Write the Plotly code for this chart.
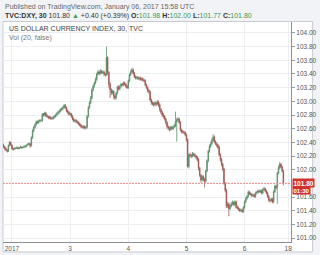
import plotly.graph_objects as go

# 30-minute bars, TVC:DXY, Jan 1 (evening) .. Jan 6 2017
bar_open = [
    102.36, 102.34, 102.31, 102.29, 102.27, 102.35, 102.40, 102.36, 102.31, 102.30, 102.31, 102.31,
    102.32, 102.31, 102.32, 102.33, 102.32, 102.33, 102.34, 102.34, 102.36, 102.37, 102.38, 102.35,
    102.47, 102.57, 102.62, 102.66, 102.70, 102.69, 102.71, 102.72, 102.72, 102.81, 102.80, 102.83,
    102.79, 102.78, 102.76, 102.77, 102.75, 102.75, 102.77, 102.78, 102.80, 102.82, 102.84, 102.86,
    102.88, 102.89, 102.91, 102.94, 102.91, 102.86, 102.84, 102.81, 102.82, 102.78, 102.74, 102.71,
    102.72, 102.70, 102.69, 102.67, 102.65, 102.63, 102.62, 102.63, 102.61, 102.62, 102.78, 102.91,
    102.98, 103.05, 103.17, 103.22, 103.27, 103.32, 103.40, 103.43, 103.41, 103.44, 103.42, 103.43,
    103.40, 103.39, 103.64, 103.42, 103.25, 103.17, 103.12, 103.15, 103.08, 103.05, 103.12, 103.21,
    103.18, 103.22, 103.25, 103.24, 103.27, 103.25, 103.22, 103.20, 103.30, 103.39, 103.43, 103.46,
    103.41, 103.36, 103.34, 103.35, 103.33, 103.34, 103.32, 103.33, 103.31, 103.30, 103.24, 103.20,
    103.16, 103.14, 103.02, 102.98, 102.97, 102.95, 102.98, 102.96, 102.99, 102.95, 102.88, 102.84,
    102.80, 102.78, 102.74, 102.69, 102.63, 102.61, 102.59, 102.62, 102.60, 102.63, 102.64, 102.70,
    102.73, 102.74, 102.69, 102.58, 102.56, 102.55, 102.54, 102.51, 102.44, 102.05, 102.22, 102.21,
    102.20, 102.23, 102.22, 102.20, 102.18, 102.15, 102.02, 101.92, 101.85, 101.90, 101.86, 101.83,
    101.98, 102.13, 102.27, 102.34, 102.38, 102.43, 102.48, 102.41, 102.38, 102.36, 102.33, 102.22,
    102.15, 102.08, 102.01, 101.80, 101.70, 101.47, 101.50, 101.43, 101.47, 101.50, 101.52, 101.49,
    101.53, 101.45, 101.44, 101.42, 101.40, 101.41, 101.39, 101.45, 101.53, 101.58, 101.61, 101.67,
    101.65, 101.64, 101.62, 101.63, 101.61, 101.66, 101.67, 101.69, 101.68, 101.69, 101.66, 101.71,
    101.72, 101.69, 101.66, 101.61, 101.56, 101.55, 101.57, 101.53, 101.68, 101.76, 101.74, 101.95,
    102.03, 102.08, 102.04, 101.98,
]
bar_high = [
    102.38, 102.35, 102.33, 102.30, 102.37, 102.42, 102.41, 102.37, 102.32, 102.33, 102.33, 102.34,
    102.34, 102.33, 102.35, 102.34, 102.34, 102.36, 102.36, 102.37, 102.39, 102.40, 102.39, 102.49,
    102.59, 102.64, 102.68, 102.72, 102.72, 102.73, 102.74, 102.74, 102.83, 102.83, 102.85, 102.84,
    102.81, 102.79, 102.79, 102.78, 102.77, 102.79, 102.80, 102.82, 102.84, 102.86, 102.88, 102.90,
    102.91, 102.93, 102.96, 102.96, 102.92, 102.88, 102.86, 102.84, 102.83, 102.80, 102.76, 102.74,
    102.74, 102.72, 102.71, 102.69, 102.67, 102.65, 102.65, 102.65, 102.64, 102.80, 102.93, 103.00,
    103.08, 103.19, 103.25, 103.29, 103.35, 103.42, 103.46, 103.45, 103.47, 103.46, 103.45, 103.45,
    103.42, 103.80, 103.66, 103.44, 103.28, 103.19, 103.17, 103.16, 103.10, 103.14, 103.23, 103.23,
    103.24, 103.27, 103.27, 103.29, 103.29, 103.27, 103.24, 103.32, 103.41, 103.46, 103.49, 103.48,
    103.43, 103.38, 103.37, 103.37, 103.36, 103.36, 103.35, 103.35, 103.33, 103.32, 103.26, 103.22,
    103.18, 103.16, 103.04, 103.00, 102.99, 103.00, 103.00, 103.02, 103.01, 102.97, 102.90, 102.86,
    102.83, 102.80, 102.76, 102.71, 102.65, 102.63, 102.64, 102.64, 102.65, 102.67, 102.85, 102.76,
    102.77, 102.76, 102.71, 102.60, 102.58, 102.57, 102.56, 102.53, 102.46, 102.24, 102.25, 102.23,
    102.26, 102.25, 102.24, 102.21, 102.20, 102.17, 102.04, 101.94, 101.92, 101.92, 101.88, 102.00,
    102.15, 102.29, 102.37, 102.41, 102.46, 102.52, 102.50, 102.43, 102.40, 102.38, 102.35, 102.24,
    102.17, 102.10, 102.03, 101.82, 101.72, 101.53, 101.52, 101.49, 101.53, 101.55, 101.54, 101.55,
    101.55, 101.48, 101.46, 101.44, 101.43, 101.43, 101.47, 101.55, 101.60, 101.63, 101.70, 101.69,
    101.67, 101.66, 101.65, 101.65, 101.68, 101.69, 101.71, 101.71, 101.71, 101.71, 101.73, 101.75,
    101.74, 101.71, 101.68, 101.63, 101.58, 101.59, 101.59, 101.70, 101.78, 101.78, 101.97, 102.06,
    102.11, 102.10, 102.06, 102.00,
]
bar_low = [
    102.32, 102.29, 102.27, 102.25, 102.26, 102.34, 102.35, 102.29, 102.28, 102.29, 102.30, 102.30,
    102.30, 102.30, 102.31, 102.31, 102.31, 102.32, 102.32, 102.33, 102.35, 102.36, 102.32, 102.34,
    102.45, 102.55, 102.60, 102.64, 102.67, 102.67, 102.69, 102.70, 102.70, 102.78, 102.78, 102.77,
    102.76, 102.74, 102.74, 102.73, 102.73, 102.73, 102.75, 102.76, 102.78, 102.80, 102.82, 102.84,
    102.86, 102.87, 102.89, 102.89, 102.84, 102.82, 102.79, 102.79, 102.76, 102.72, 102.69, 102.69,
    102.68, 102.67, 102.65, 102.63, 102.61, 102.60, 102.60, 102.59, 102.59, 102.60, 102.76, 102.89,
    102.96, 103.03, 103.14, 103.20, 103.25, 103.30, 103.38, 103.38, 103.39, 103.40, 103.40, 103.37,
    103.36, 103.37, 103.38, 103.20, 103.05, 103.09, 103.10, 103.03, 103.02, 103.03, 103.10, 103.16,
    103.16, 103.20, 103.22, 103.22, 103.23, 103.20, 103.18, 103.18, 103.28, 103.37, 103.41, 103.39,
    103.34, 103.32, 103.32, 103.31, 103.31, 103.30, 103.30, 103.29, 103.28, 103.22, 103.18, 103.13,
    103.11, 103.00, 102.95, 102.94, 102.92, 102.93, 102.93, 102.94, 102.92, 102.85, 102.81, 102.77,
    102.75, 102.72, 102.66, 102.60, 102.58, 102.56, 102.57, 102.58, 102.58, 102.61, 102.62, 102.41,
    102.70, 102.67, 102.56, 102.53, 102.53, 102.52, 102.49, 102.41, 102.03, 102.02, 102.18, 102.17,
    102.18, 102.19, 102.18, 102.15, 102.12, 101.99, 101.89, 101.81, 101.83, 101.83, 101.74, 101.81,
    101.96, 102.11, 102.25, 102.32, 102.36, 102.41, 102.39, 102.36, 102.33, 102.30, 102.20, 102.12,
    102.05, 101.98, 101.78, 101.67, 101.44, 101.44, 101.32, 101.41, 101.45, 101.48, 101.47, 101.47,
    101.43, 101.42, 101.40, 101.38, 101.38, 101.37, 101.37, 101.43, 101.51, 101.56, 101.59, 101.63,
    101.62, 101.60, 101.60, 101.59, 101.59, 101.64, 101.65, 101.66, 101.66, 101.64, 101.64, 101.69,
    101.67, 101.64, 101.59, 101.53, 101.52, 101.53, 101.51, 101.51, 101.66, 101.71, 101.50, 101.93,
    102.01, 102.02, 101.96, 101.77,
]
bar_close = [
    102.34, 102.31, 102.29, 102.27, 102.35, 102.40, 102.36, 102.31, 102.30, 102.31, 102.31, 102.32,
    102.31, 102.32, 102.33, 102.32, 102.33, 102.34, 102.34, 102.36, 102.37, 102.38, 102.35, 102.47,
    102.57, 102.62, 102.66, 102.70, 102.69, 102.71, 102.72, 102.72, 102.81, 102.80, 102.83, 102.79,
    102.78, 102.76, 102.77, 102.75, 102.75, 102.77, 102.78, 102.80, 102.82, 102.84, 102.86, 102.88,
    102.89, 102.91, 102.94, 102.91, 102.86, 102.84, 102.81, 102.82, 102.78, 102.74, 102.71, 102.72,
    102.70, 102.69, 102.67, 102.65, 102.63, 102.62, 102.63, 102.61, 102.62, 102.78, 102.91, 102.98,
    103.05, 103.17, 103.22, 103.27, 103.32, 103.40, 103.43, 103.41, 103.44, 103.42, 103.43, 103.40,
    103.39, 103.64, 103.42, 103.25, 103.17, 103.12, 103.15, 103.08, 103.05, 103.12, 103.21, 103.18,
    103.22, 103.25, 103.24, 103.27, 103.25, 103.22, 103.20, 103.30, 103.39, 103.43, 103.46, 103.41,
    103.36, 103.34, 103.35, 103.33, 103.34, 103.32, 103.33, 103.31, 103.30, 103.24, 103.20, 103.16,
    103.14, 103.02, 102.98, 102.97, 102.95, 102.98, 102.96, 102.99, 102.95, 102.88, 102.84, 102.80,
    102.78, 102.74, 102.69, 102.63, 102.61, 102.59, 102.62, 102.60, 102.63, 102.64, 102.70, 102.73,
    102.74, 102.69, 102.58, 102.56, 102.55, 102.54, 102.51, 102.44, 102.05, 102.22, 102.21, 102.20,
    102.23, 102.22, 102.20, 102.18, 102.15, 102.02, 101.92, 101.85, 101.90, 101.86, 101.83, 101.98,
    102.13, 102.27, 102.34, 102.38, 102.43, 102.48, 102.41, 102.38, 102.36, 102.33, 102.22, 102.15,
    102.08, 102.01, 101.80, 101.70, 101.47, 101.50, 101.43, 101.47, 101.50, 101.52, 101.49, 101.53,
    101.45, 101.44, 101.42, 101.40, 101.41, 101.39, 101.45, 101.53, 101.58, 101.61, 101.67, 101.65,
    101.64, 101.62, 101.63, 101.61, 101.66, 101.67, 101.69, 101.68, 101.69, 101.66, 101.71, 101.72,
    101.69, 101.66, 101.61, 101.56, 101.55, 101.57, 101.53, 101.68, 101.76, 101.74, 101.95, 102.03,
    102.08, 102.04, 101.98, 101.80,
]
bar_index = list(range(len(bar_close)))

# bar index of day boundaries (and the 18:00 mark on Jan 6)
x_tick_pos = [7, 55, 103, 151, 199, 235]
x_tick_text = ["2017", "3", "4", "5", "6", "18"]

# price-scale labels (101.80 is hidden under the last-price tag)
y_tick_vals = [101.00, 101.20, 101.40, 101.60, 102.00, 102.20, 102.40, 102.60,
               102.80, 103.00, 103.20, 103.40, 103.60, 103.80, 104.00]

last_price = 101.80
countdown = "01:30"
title_line1 = "Published on TradingView.com, January 06, 2017 15:58 UTC"
pane_title = "US DOLLAR CURRENCY INDEX, 30, TVC"
pane_sub = "Vol (20, false)"

GREEN = "#3f9a52"
FONT = "Liberation Sans, Arial, sans-serif"

fig = go.Figure(go.Candlestick(
    x=bar_index, open=bar_open, high=bar_high, low=bar_low, close=bar_close,
    increasing=dict(line=dict(color="#5f8f6c", width=0.8), fillcolor="#2f7d43"),
    decreasing=dict(line=dict(color="#9a5a55", width=0.8), fillcolor="#b3201b"),
    whiskerwidth=0, showlegend=False, hoverinfo="skip",
))

W, H = 320, 255
ml, mr, mt, mb = 3, 24, 22, 12
pw, ph = W - ml - mr, H - mt - mb

def px_x(p):
    return (p - ml) / pw

def px_y(p):
    return (H - mb - p) / ph

fig.update_layout(
    width=W, height=H,
    margin=dict(l=ml, r=mr, t=mt, b=mb, pad=0),
    paper_bgcolor="#f1f3f6", plot_bgcolor="#ffffff",
    font=dict(family=FONT, size=7, color="#555555"),
    xaxis=dict(
        range=[-0.4, 237.3], rangeslider=dict(visible=False),
        tickmode="array", tickvals=x_tick_pos, ticktext=x_tick_text,
        showgrid=True, gridcolor="#eceef2", gridwidth=1,
        showline=True, linecolor="#8a8e96", linewidth=1,
        ticks="", zeroline=False, tickfont=dict(size=6.5, color="#555555"),
        fixedrange=True,
    ),
    yaxis=dict(
        side="right", range=[100.943, 104.16],
        tickmode="array", tickvals=y_tick_vals, tickformat=".2f",
        showgrid=True, gridcolor="#eceef2", gridwidth=1,
        showline=True, linecolor="#8a8e96", linewidth=1,
        ticks="outside", ticklen=3, tickcolor="#9a9ea6",
        zeroline=False, tickfont=dict(size=6.5, color="#555555"),
        fixedrange=True,
    ),
    shapes=[
        dict(type="rect", xref="paper", yref="paper",
             x0=px_x(3), x1=px_x(318), y0=px_y(253), y1=px_y(21.5),
             fillcolor="#ffffff", line=dict(color="#c8cbd1", width=1), layer="below"),
        dict(type="line", xref="paper", yref="y", x0=0, x1=1,
             y0=last_price, y1=last_price,
             line=dict(color="#f08a8a", width=1, dash="2px,1px")),
    ],
    annotations=[
        dict(xref="paper", yref="paper", x=px_x(3), y=px_y(6.5), xanchor="left", yanchor="middle",
             text=title_line1, showarrow=False, font=dict(size=7, color="#666666")),
        dict(xref="paper", yref="paper", x=px_x(3), y=px_y(15.5), xanchor="left", yanchor="middle",
             text=("<b>TVC:DXY, 30</b> 101.80 <span style='color:%s'>▲</span> +0.40 (+0.39%%) "
                   "<b>O:</b><span style='color:%s'>101.98</span> <b>H:</b><span style='color:%s'>102.00</span> "
                   "<b>L:</b><span style='color:%s'>101.77</span> <b>C:</b><span style='color:%s'>101.80</span>")
                  % (GREEN, GREEN, GREEN, GREEN, GREEN),
             showarrow=False, font=dict(size=7, color="#333333")),
        dict(xref="paper", yref="paper", x=px_x(7), y=px_y(29), xanchor="left", yanchor="middle",
             text=pane_title, showarrow=False, font=dict(size=7, color="#444444")),
        dict(xref="paper", yref="paper", x=px_x(7), y=px_y(38), xanchor="left", yanchor="middle",
             text=pane_sub, showarrow=False, font=dict(size=7, color="#777777")),
        dict(xref="paper", yref="y", x=1, y=last_price, xanchor="left", yanchor="middle", xshift=1,
             text="<b>101.80</b>", showarrow=False, bgcolor="#d1332c", borderpad=0.5,
             font=dict(size=6.5, color="#ffffff")),
        dict(xref="paper", yref="paper", x=1, y=px_y(191.5), xanchor="left", yanchor="middle", xshift=1,
             text="<b>%s</b>" % countdown, showarrow=False, bgcolor="#d1332c", borderpad=0.5,
             font=dict(size=6, color="#ffffff")),
    ],
)

fig.write_html("out.html")
